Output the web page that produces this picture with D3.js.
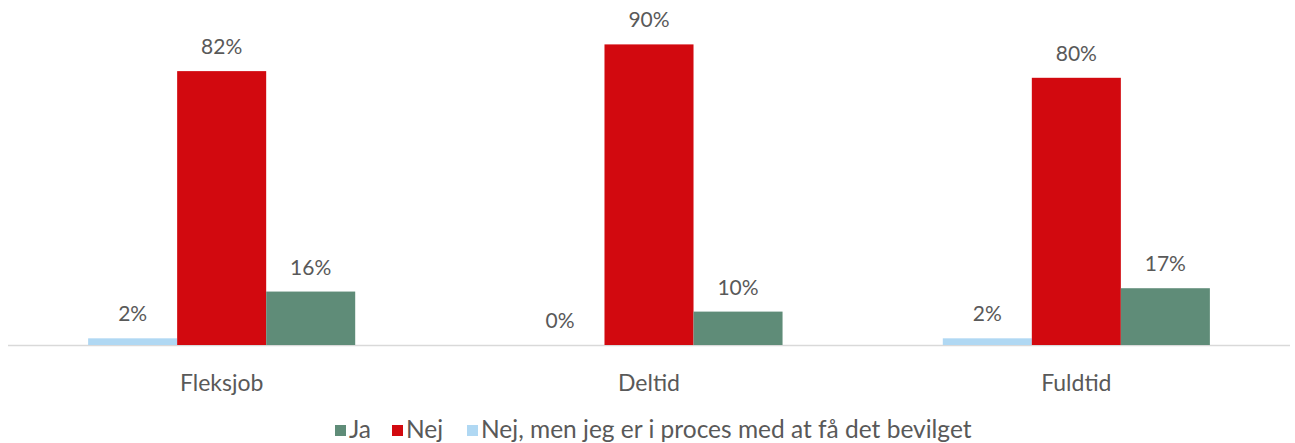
<!DOCTYPE html>
<html>
<head>
<meta charset="utf-8">
<script src="https://cdn.jsdelivr.net/npm/d3@7"></script>
<style>
  body { margin: 0; background: #fff; }
  text { font-family: "Lato", "Open Sans", sans-serif; fill: #595959; }
</style>
</head>
<body>
<div id="chart"></div>
<script>
// Chart data
const categories = ["Fleksjob", "Deltid", "Fuldtid"];
const seriesNames = ["Nej, men jeg er i proces med at få det bevilget", "Nej", "Ja"];
const procesValues = [2, 0, 2];
const nejValues = [82, 90, 80];
const jaValues = [16, 10, 17];
const legendOrder = ["Ja", "Nej", "Nej, men jeg er i proces med at få det bevilget"];

const colors = {
    "Ja": "#5f8c78",
    "Nej": "#d2090f",
    "Nej, men jeg er i proces med at få det bevilget": "#b0d8f3"
};

const width = 1295;
const height = 443;
const margin = { top: 10, right: 5, bottom: 98, left: 8 };

const svg = d3.select("#chart").append("svg")
    .attr("width", width)
    .attr("height", height);

// rows for each category
const rows = categories.map((c, i) => ({
    cat: c,
    values: [procesValues[i], nejValues[i], jaValues[i]]
}));

const x0 = d3.scaleBand()
    .domain(categories)
    .range([margin.left, width - margin.right])
    .paddingInner(0.375)
    .paddingOuter(0.1875);

const x1 = d3.scaleBand()
    .domain(seriesNames)
    .range([0, x0.bandwidth()]);

const y = d3.scaleLinear()
    .domain([0, 100])
    .range([height - margin.bottom, height - margin.bottom - 334]);

// axis line
svg.append("line")
    .attr("x1", margin.left)
    .attr("x2", width - margin.right)
    .attr("y1", y(0) + 0.5)
    .attr("y2", y(0) + 0.5)
    .attr("stroke", "#d9d9d9")
    .attr("stroke-width", 1.5);

const groups = svg.selectAll(".group")
    .data(rows)
    .enter().append("g")
    .attr("class", "group")
    .attr("transform", d => `translate(${x0(d.cat)},0)`);

groups.selectAll("rect")
    .data(d => d.values.map((v, i) => ({ name: seriesNames[i], value: v })))
    .enter().append("rect")
    .attr("x", d => x1(d.name))
    .attr("width", x1.bandwidth())
    .attr("y", d => y(d.value))
    .attr("height", d => y(0) - y(d.value))
    .attr("fill", d => colors[d.name]);

groups.selectAll(".lbl")
    .data(d => d.values.map((v, i) => ({ name: seriesNames[i], value: v })))
    .enter().append("text")
    .attr("class", "lbl")
    .attr("x", d => x1(d.name) + x1.bandwidth() / 2)
    .attr("y", d => y(d.value) - 17)
    .attr("text-anchor", "middle")
    .style("font-size", "21px")
    .text(d => d.value + "%");

// category labels
svg.selectAll(".cat")
    .data(categories)
    .enter().append("text")
    .attr("class", "cat")
    .attr("x", d => x0(d) + x0.bandwidth() / 2)
    .attr("y", y(0) + 46)
    .attr("text-anchor", "middle")
    .style("font-size", "23px")
    .text(d => d);

// legend
const legendX = [335, 392, 467];
const legend = svg.selectAll(".legend")
    .data(legendOrder)
    .enter().append("g")
    .attr("class", "legend")
    .attr("transform", (d, i) => `translate(${legendX[i]},425)`);

legend.append("rect")
    .attr("width", 11)
    .attr("height", 11)
    .attr("fill", d => colors[d]);

legend.append("text")
    .attr("x", 14)
    .attr("y", 13)
    .style("font-size", "24.5px")
    .text(d => d);
</script>
</body>
</html>
